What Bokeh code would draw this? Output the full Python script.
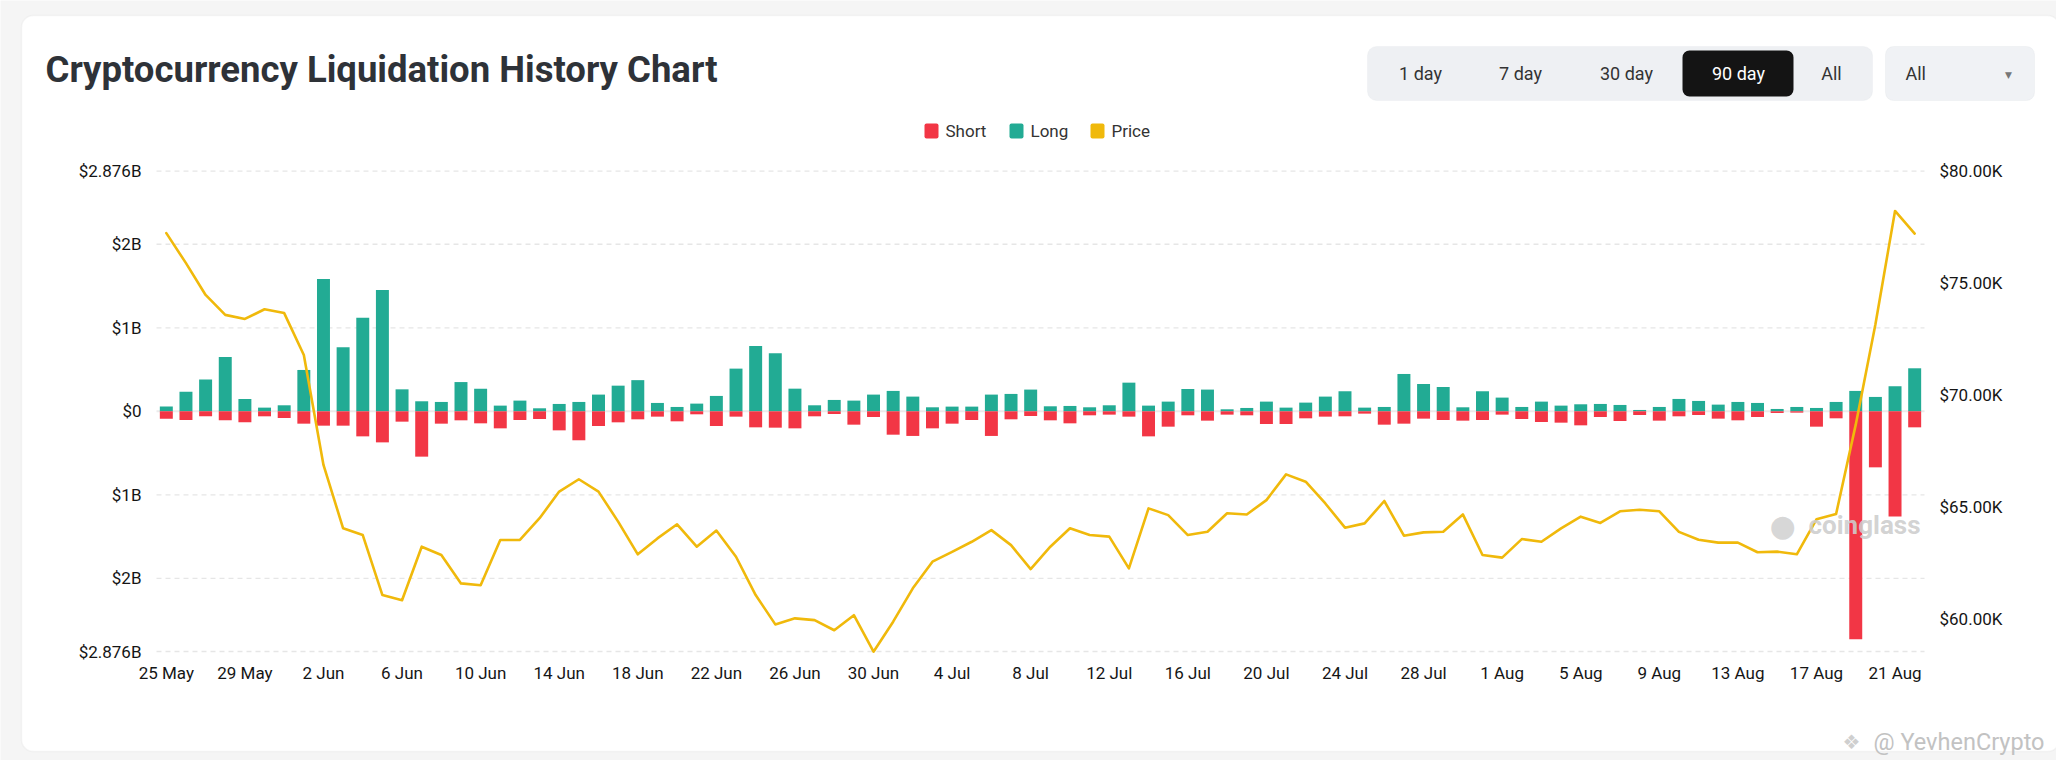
from bokeh.plotting import figure
from bokeh.models import Range1d, Label, BoxAnnotation
from bokeh.core.properties import value
from bokeh.embed import file_html
from bokeh.resources import INLINE

# ---------------- data ----------------
x_tick_labels = ["25 May", "29 May", "2 Jun", "6 Jun", "10 Jun", "14 Jun", "18 Jun", "22 Jun",
                 "26 Jun", "30 Jun", "4 Jul", "8 Jul", "12 Jul", "16 Jul", "20 Jul", "24 Jul",
                 "28 Jul", "1 Aug", "5 Aug", "9 Aug", "13 Aug", "17 Aug", "21 Aug"]

long_b = [0.056, 0.235, 0.38, 0.65, 0.148, 0.044, 0.072, 0.495, 1.585, 0.766,
          1.12, 1.453, 0.263, 0.12, 0.112, 0.35, 0.27, 0.068, 0.128, 0.036,
          0.088, 0.112, 0.2, 0.307, 0.373, 0.1, 0.052, 0.092, 0.184, 0.511,
          0.782, 0.695, 0.271, 0.072, 0.136, 0.128, 0.2, 0.244, 0.176, 0.048,
          0.056, 0.056, 0.2, 0.208, 0.26, 0.06, 0.064, 0.048, 0.072, 0.343,
          0.068, 0.116, 0.267, 0.26, 0.024, 0.04, 0.116, 0.044, 0.104, 0.176,
          0.24, 0.044, 0.052, 0.447, 0.327, 0.291, 0.048, 0.24, 0.164, 0.052,
          0.116, 0.068, 0.084, 0.088, 0.076, 0.016, 0.052, 0.148, 0.124, 0.08,
          0.112, 0.1, 0.028, 0.052, 0.04, 0.112, 0.244, 0.172, 0.3, 0.515]

short_b = [0.09, 0.104, 0.06, 0.108, 0.13, 0.06, 0.08, 0.148, 0.172, 0.172,
           0.30, 0.372, 0.124, 0.543, 0.148, 0.108, 0.144, 0.204, 0.104, 0.092,
           0.228, 0.347, 0.176, 0.132, 0.096, 0.064, 0.12, 0.036, 0.176, 0.064,
           0.192, 0.196, 0.204, 0.06, 0.032, 0.16, 0.068, 0.28, 0.295, 0.204,
           0.148, 0.104, 0.295, 0.096, 0.056, 0.108, 0.144, 0.048, 0.04, 0.064,
           0.3, 0.184, 0.048, 0.112, 0.04, 0.048, 0.152, 0.152, 0.084, 0.064,
           0.06, 0.028, 0.16, 0.148, 0.088, 0.104, 0.112, 0.104, 0.04, 0.092,
           0.128, 0.136, 0.168, 0.068, 0.116, 0.044, 0.112, 0.06, 0.044, 0.088,
           0.108, 0.068, 0.02, 0.016, 0.184, 0.084, 2.73, 0.671, 1.26, 0.192]

price_k = [77.23, 75.89, 74.47, 73.58, 73.40, 73.83, 73.66, 71.79, 66.88, 64.05,
           63.75, 61.07, 60.84, 63.23, 62.86, 61.59, 61.51, 63.53, 63.53, 64.50,
           65.69, 66.24, 65.69, 64.35, 62.89, 63.60, 64.23, 63.23, 63.95, 62.78,
           61.07, 59.76, 60.03, 59.95, 59.50, 60.17, 58.54, 59.88, 61.37, 62.56,
           63.00, 63.45, 63.97, 63.30, 62.23, 63.23, 64.05, 63.75, 63.68, 62.26,
           64.94, 64.64, 63.75, 63.90, 64.72, 64.67, 65.31, 66.46, 66.13, 65.16,
           64.08, 64.27, 65.27, 63.72, 63.87, 63.90, 64.67, 62.86, 62.74, 63.57,
           63.45, 64.05, 64.57, 64.29, 64.81, 64.88, 64.81, 63.89, 63.54, 63.41,
           63.41, 62.98, 63.01, 62.89, 64.45, 64.69, 68.68, 73.15, 78.22, 77.21]

left_ticks = [-2.876, -2, -1, 0, 1, 2, 2.876]
left_tick_labels = ["$2.876B", "$2B", "$1B", "$0", "$1B", "$2B", "$2.876B"]
price_ticks = [60000, 65000, 70000, 75000, 80000]
price_tick_labels = ["$60.00K", "$65.00K", "$70.00K", "$75.00K", "$80.00K"]
range_buttons = ["1 day", "7 day", "30 day", "90 day", "All"]
legend_items = ["Short", "Long", "Price"]

N = len(long_b)
idx = list(range(N))
x_tick_idx = list(range(0, N, 4))
shorts_neg = [-v for v in short_b]
price = [v * 1000 for v in price_k]

# ---------------- geometry (canvas pixels) ----------------
OFF = 2                      # page position of the canvas origin
W, H = 2056, 760
FL, FR, FT, FB = 158 - OFF, 1926 - OFF, 172.6 - OFF, 653 - OFF
YMAX = 2.876
PMIN, PMAX = 58550, 80000
FONT = "Roboto"
GREEN, RED, YELLOW = "#22AB94", "#F23645", "#F0B90B"


def X(xp):  # page pixel -> canvas x
    return xp - OFF


def Y(yp):  # page pixel (from top) -> canvas y measured upward
    return H - (yp - OFF)


sd = N / (FR - FL)
sl = 2 * YMAX / (FB - FT)
sp = (PMAX - PMIN) / (FB - FT)

p = figure(width=W, height=H, output_backend="svg", toolbar_location=None,
           x_range=Range1d(0, W), y_range=Range1d(0, H),
           x_axis_location=None, y_axis_location=None, min_border=0)
p.extra_x_ranges = {"days": Range1d(-0.5 - FL * sd, N - 0.5 + (W - FR) * sd)}
p.extra_y_ranges = {"liq": Range1d(-YMAX - (H - FB) * sl, YMAX + FT * sl),
                    "price": Range1d(PMIN - (H - FB) * sp, PMAX + FT * sp)}
p.outline_line_color = None
p.background_fill_color = "#f5f5f5"
p.border_fill_color = "#f5f5f5"
p.grid.visible = False

# card
p.add_layout(BoxAnnotation(left=X(23), right=X(2061), top=Y(17), bottom=Y(753),
                           fill_color="white", fill_alpha=1.0, line_color="#e2e2e2",
                           line_width=1.5, border_radius=12, level="underlay"))

# horizontal grid lines (dashed) + zero line
grid_ticks = [t for t in left_ticks if t != 0]
p.segment(x0=[-0.5] * len(grid_ticks), x1=[N - 0.5] * len(grid_ticks), y0=grid_ticks, y1=grid_ticks,
          x_range_name="days", y_range_name="liq", line_color="#e6e6e6", line_width=1.3,
          line_dash="5 4")
p.segment(x0=[-0.5], x1=[N - 0.5], y0=[0], y1=[0], x_range_name="days", y_range_name="liq",
          line_color="#ebebeb", line_width=2)

# bars
p.vbar(x=idx, top=long_b, bottom=0, width=0.66, fill_color=GREEN, line_color=None,
       x_range_name="days", y_range_name="liq")
p.vbar(x=idx, top=0, bottom=shorts_neg, width=0.66, fill_color=RED, line_color=None,
       x_range_name="days", y_range_name="liq")

# price line
p.line(x=idx, y=price, x_range_name="days", y_range_name="price", line_color=YELLOW,
       line_width=2.6, line_join="round", line_cap="round")

# tick labels
tick_style = dict(text_font=value(FONT), text_font_size=value("17px"), text_color="#151515",
                  text_baseline="middle")
p.text(x=x_tick_idx, y=[Y(674)] * len(x_tick_idx), text=x_tick_labels, x_range_name="days",
       text_align="center", **tick_style)
p.text(x=[X(143)] * len(left_ticks), y=left_ticks, text=left_tick_labels, y_range_name="liq",
       text_align="right", **tick_style)
p.text(x=[X(1941)] * len(price_ticks), y=price_ticks, text=price_tick_labels,
       y_range_name="price", text_align="left", **tick_style)

# title
p.add_layout(Label(x=X(47), y=Y(71), text="Cryptocurrency Liquidation History Chart",
                   text_font=FONT, text_font_size="36.5px", text_font_style="bold",
                   text_color="#2e3238", text_align="left", text_baseline="middle"))

# legend
for x0, lbl, col in zip([926, 1011, 1092], legend_items, [RED, GREEN, YELLOW]):
    p.add_layout(BoxAnnotation(left=X(x0), right=X(x0 + 14), top=Y(125), bottom=Y(140),
                               fill_color=col, fill_alpha=1, line_color=None, border_radius=2))
    p.add_layout(Label(x=X(x0 + 21), y=Y(132), text=lbl, text_font=FONT,
                       text_font_size="17px", text_color="#333333",
                       text_align="left", text_baseline="middle"))

# range buttons
p.add_layout(BoxAnnotation(left=X(1369), right=X(1874), top=Y(48), bottom=Y(102),
                           fill_color="#eef0f3", fill_alpha=1, line_color="#e4e7eb",
                           line_width=1, border_radius=9))
p.add_layout(BoxAnnotation(left=X(1684), right=X(1795), top=Y(52), bottom=Y(98),
                           fill_color="#141414", fill_alpha=1, line_color=None, border_radius=7))
for bx, lbl in zip([1422, 1522, 1628, 1740, 1833], range_buttons):
    p.add_layout(Label(x=X(bx), y=Y(75), text=lbl, text_font=FONT, text_font_size="18px",
                       text_color="white" if lbl == "90 day" else "#333333",
                       text_align="center", text_baseline="middle"))

# select
p.add_layout(BoxAnnotation(left=X(1887), right=X(2036), top=Y(48), bottom=Y(102),
                           fill_color="#f0f2f5", fill_alpha=1, line_color="#e2e5e9",
                           line_width=1, border_radius=8))
p.add_layout(Label(x=X(1907), y=Y(75), text="All", text_font=FONT, text_font_size="18px",
                   text_color="#333333", text_align="left", text_baseline="middle"))
p.add_layout(Label(x=X(2010), y=Y(76), text="▼", text_font="DejaVu Sans", text_font_size="9px",
                   text_color="#777777", text_align="center", text_baseline="middle"))

# watermarks
p.add_layout(Label(x=X(1784), y=Y(527), text="●", text_font="DejaVu Sans", text_font_size="30px",
                   text_color="#d2d2d2", text_alpha=0.9, text_align="center", text_baseline="middle"))
p.add_layout(Label(x=X(1810), y=Y(526), text="coinglass", text_font=FONT, text_font_size="26px",
                   text_font_style="bold", text_color="#cdcdcd", text_alpha=0.9,
                   text_align="left", text_baseline="middle"))
p.add_layout(Label(x=X(1853), y=Y(743), text="❖", text_font="DejaVu Sans", text_font_size="20px",
                   text_color="#cfcfcf", text_align="center", text_baseline="middle"))
p.add_layout(Label(x=X(1875), y=Y(743), text="@ YevhenCrypto", text_font=FONT,
                   text_font_size="23.5px", text_color="#c2c2c2",
                   text_align="left", text_baseline="middle"))

open("out.html", "w").write(file_html(p, INLINE))
